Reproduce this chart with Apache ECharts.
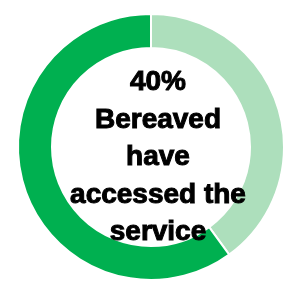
<!DOCTYPE html>
<html>
<head>
<meta charset="utf-8">
<script src="https://cdn.jsdelivr.net/npm/echarts@6/dist/echarts.min.js"></script>
<style>
html, body { margin: 0; padding: 0; background: #fff; }
#main { width: 283px; height: 284px; }
</style>
</head>
<body>
<div id="main"></div>
<script>
// 数据
let names = ['Accessed', 'Not accessed'];
let values = [40, 60];
let colors = ['#ADDFBC', '#00B050'];
let centerText = '40%\nBereaved\nhave\naccessed the\nservice';

let chart = echarts.init(document.getElementById('main'));
let option = {
    animation: false,
    title: {
        text: centerText,
        left: 153,
        top: 59,
        textAlign: 'center',
        textStyle: {
            fontFamily: 'Liberation Sans',
            fontWeight: 'bold',
            fontSize: 28,
            lineHeight: 37.5,
            color: '#000',
            textBorderColor: '#000',
            textBorderWidth: 1
        }
    },
    series: [{
        type: 'pie',
        center: [151, 147],
        radius: [99, 133],
        startAngle: 90,
        clockwise: true,
        label: { show: false },
        labelLine: { show: false },
        itemStyle: { borderColor: '#fff', borderWidth: 2 },
        data: names.map(function (n, i) {
            return { name: n, value: values[i], itemStyle: { color: colors[i] } };
        })
    }]
};
chart.setOption(option);
</script>
</body>
</html>
